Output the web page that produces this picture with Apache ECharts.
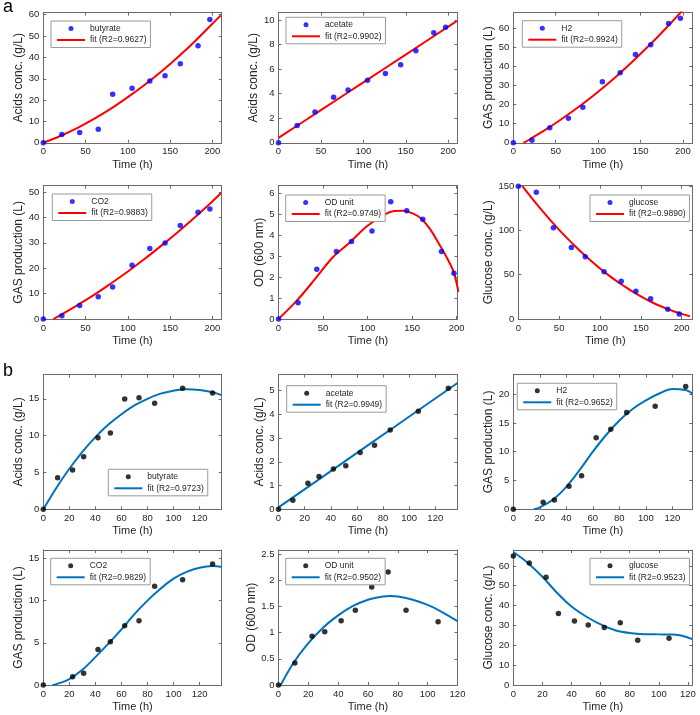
<!DOCTYPE html>
<html><head><meta charset="utf-8">
<script src="https://cdn.jsdelivr.net/npm/echarts@6/dist/echarts.min.js"></script>
<style>html,body{margin:0;padding:0;background:#fff}#c{width:700px;height:715px}</style>
</head><body><div id="c"></div>
<script>
// ---------- DATA ----------
const timeA = [0, 22, 43, 65, 82, 105, 126, 144, 162, 183, 197];
const timeB = [0, 11, 22.5, 31, 42, 51.5, 62.5, 73.5, 85.5, 107, 130];
const timeBgas = [0, 22.5, 31, 42, 51.5, 62.5, 73.5, 85.5, 107, 130];
const timeBod = [0, 11, 22.5, 31, 42, 51.5, 62.5, 73.5, 85.5, 107];

const butyrateA = [0, 3.9, 4.8, 6.4, 22.7, 25.6, 28.9, 31.4, 37, 45.5, 57.8];
const acetateA = [0, 1.4, 2.5, 3.7, 4.3, 5.1, 5.65, 6.35, 7.5, 8.95, 9.4];
const h2A = [0, 1.4, 7.9, 12.9, 18.7, 32, 36.7, 46.3, 51.4, 62.6, 65.4];
const co2A = [0, 1.3, 5.3, 8.8, 12.6, 21.2, 27.8, 29.9, 36.8, 42, 43.3];
const odA = [0, 0.78, 2.37, 3.22, 3.7, 4.2, 5.59, 5.17, 4.76, 3.22, 2.18];
const glucoseA = [150, 143.2, 103, 80.8, 70.3, 53.4, 42.5, 31.2, 22.9, 10.9, 5.6];

const butyrateB = [0, 4.3, 5.33, 7.14, 9.7, 10.35, 14.96, 15.14, 14.4, 16.45, 15.8];
const acetateB = [0, 0.38, 1.1, 1.38, 1.7, 1.83, 2.39, 2.7, 3.34, 4.13, 5.1];
const h2B = [0, 1.22, 1.63, 4.0, 5.83, 12.4, 13.9, 16.8, 17.9, 21.3];
const co2B = [0, 0.99, 1.38, 4.22, 5.13, 7.03, 7.62, 11.7, 12.47, 14.33];
const odB = [0, 0.42, 0.93, 1.02, 1.23, 1.43, 1.875, 2.16, 1.43, 1.21];
const glucoseB = [65, 61.5, 54.3, 36, 32.3, 30.2, 29, 31.3, 22.6, 23.5];

// fitted curves
const fitButyrateA_t = [0, 20, 40, 60, 80, 100, 120, 140, 160, 180, 200, 210];
const fitButyrateA_y = [0, 3.2, 6.9, 11.2, 16, 21.4, 27.2, 33.5, 40.4, 47.8, 55.8, 59.7];
const fitAcetateA_t = [0, 50, 100, 150, 210];
const fitAcetateA_y = [0.4, 2.66, 4.92, 7.18, 9.9];
const fitH2A_t = [12, 20, 40, 60, 80, 100, 120, 140, 160, 180, 201];
const fitH2A_y = [0, 2.0, 7.4, 13.4, 19.8, 26.8, 34.3, 42.4, 51, 60.1, 70.2];
const fitCo2A_t = [12, 20, 40, 60, 80, 100, 120, 140, 160, 180, 200, 210];
const fitCo2A_y = [0, 1.5, 5.4, 9.5, 14.0, 18.7, 23.7, 29.0, 34.5, 40.3, 46.3, 49.5];
const fitOdA_t = [0, 20, 40, 60, 80, 100, 120, 130, 140, 150, 160, 170, 180, 190, 197, 202];
const fitOdA_y = [0, 0.85, 1.85, 2.9, 3.65, 4.45, 5.0, 5.15, 5.17, 5.05, 4.8, 4.3, 3.6, 2.85, 2.2, 1.3];
const fitGlucoseA_t = [5, 10, 20, 30, 40, 50, 60, 70, 80, 90, 100, 110, 120, 130, 140, 150, 160, 170, 180, 190, 200, 210];
const fitGlucoseA_y = [150, 144.0, 132.5, 121.4, 110.8, 100.7, 91.0, 81.8, 73.1, 64.9, 57.1, 49.8, 43.0, 36.8, 30.9, 25.5, 20.6, 16.1, 12.3, 8.8, 5.8, 3.2];

const fitButyrateB_t = [0, 10, 20, 30, 40, 50, 60, 70, 80, 90, 100, 110, 120, 130, 137];
const fitButyrateB_y = [0, 2.9, 5.5, 7.8, 9.8, 11.5, 12.9, 14.1, 15.0, 15.7, 16.1, 16.3, 16.2, 15.9, 15.5];
const fitAcetateB_t = [0, 45, 90, 137];
const fitAcetateB_y = [0.08, 1.8, 3.52, 5.32];
const fitH2B_t = [15.5, 20, 30, 40, 50, 60, 70, 80, 90, 100, 110, 120, 130, 135];
const fitH2B_y = [0, 0.35, 1.7, 3.9, 6.8, 10.0, 12.9, 15.4, 17.4, 18.9, 20.1, 20.9, 20.7, 20.1];
const fitCo2B_t = [7, 10, 20, 30, 40, 50, 60, 70, 80, 90, 100, 110, 120, 130, 137];
const fitCo2B_y = [0, 0.1, 0.7, 1.8, 3.3, 4.9, 6.6, 8.4, 10.0, 11.4, 12.6, 13.4, 13.9, 14.1, 14.0];
const fitOdB_t = [1.5, 10, 20, 30, 40, 50, 60, 70, 75, 80, 90, 100, 110, 120];
const fitOdB_y = [0, 0.42, 0.8, 1.1, 1.33, 1.51, 1.63, 1.69, 1.70, 1.69, 1.63, 1.53, 1.39, 1.22];
const fitGlucoseB_t = [0, 10, 20, 30, 40, 50, 60, 70, 80, 90, 100, 110, 116, 123];
const fitGlucoseB_y = [67, 61.5, 54.5, 46.5, 39.5, 34.5, 30.5, 27.6, 26.2, 25.6, 25.5, 25.4, 24.8, 23.1];

const scatterNames = ['butyrate', 'acetate', 'H2', 'CO2', 'OD unit', 'glucose'];
const fitNamesA = ['fit (R2=0.9627)', 'fit (R2=0.9902)', 'fit (R2=0.9924)', 'fit (R2=0.9883)', 'fit (R2=0.9749)', 'fit (R2=0.9890)'];
const fitNamesB = ['fit (R2=0.9723)', 'fit (R2=0.9949)', 'fit (R2=0.9652)', 'fit (R2=0.9829)', 'fit (R2=0.9502)', 'fit (R2=0.9523)'];
const yNames = ['Acids conc. (g/L)', 'Acids conc. (g/L)', 'GAS production (L)', 'GAS production (L)', 'OD (600 nm)', 'Glucose conc. (g/L)'];
const xName = 'Time (h)';
const panelLetters = ['a', 'b'];

// ---------- LAYOUT ----------
const FONT = '"Liberation Sans", Arial, Helvetica, sans-serif';
const rowsTB = [[12.6, 142.8], [185.7, 319], [374.5, 509.3], [550, 685]];
const panels = [
  {st: timeA, sy: butyrateA, ft: fitButyrateA_t, fy: fitButyrateA_y, name: 0, set: 'A', l: 43.3, w: 178.4, row: 0, x: [0, 211, 50], y: [0, 61, 10], ng: 15.5, leg: [51, 21]},
  {st: timeA, sy: acetateA, ft: fitAcetateA_t, fy: fitAcetateA_y, name: 1, set: 'A', l: 278.5, w: 179, row: 0, x: [0, 211, 50], y: [0, 10.6, 2], ng: 14, leg: [286, 17.3]},
  {st: timeA, sy: h2A, ft: fitH2A_t, fy: fitH2A_y, name: 2, set: 'A', l: 513.3, w: 179, row: 0, x: [0, 211, 50], y: [0, 68.3, 10], ng: 15.5, leg: [522.3, 20.7]},
  {st: timeA, sy: co2A, ft: fitCo2A_t, fy: fitCo2A_y, name: 3, set: 'A', l: 43.3, w: 178.4, row: 1, x: [0, 211, 50], y: [0, 52.5, 10], ng: 15.5, leg: [52.3, 194]},
  {st: timeA, sy: odA, ft: fitOdA_t, fy: fitOdA_y, name: 4, set: 'A', l: 278.5, w: 179, row: 1, x: [0, 201, 50], y: [0, 6.36, 1], ng: 10.5, leg: [285.7, 195]},
  {st: timeA, sy: glucoseA, ft: fitGlucoseA_t, fy: fitGlucoseA_y, name: 5, set: 'A', l: 518.3, w: 174, row: 1, x: [0, 213, 50], y: [0, 150.5, 50], ng: 20.5, leg: [590, 195]},
  {st: timeB, sy: butyrateB, ft: fitButyrateB_t, fy: fitButyrateB_y, name: 0, set: 'B', l: 43.3, w: 178.4, row: 2, x: [0, 137, 20], y: [0, 18.3, 5], ng: 15.5, leg: [108.3, 469.3]},
  {st: timeB, sy: acetateB, ft: fitAcetateB_t, fy: fitAcetateB_y, name: 1, set: 'B', l: 278.5, w: 179, row: 2, x: [0, 137, 20], y: [0, 5.68, 1], ng: 11, leg: [286.7, 385.7]},
  {st: timeBgas, sy: h2B, ft: fitH2B_t, fy: fitH2B_y, name: 2, set: 'B', l: 513.3, w: 179, row: 2, x: [0, 135, 20], y: [0, 23.4, 5], ng: 15.5, leg: [517.3, 383.3]},
  {st: timeBgas, sy: co2B, ft: fitCo2B_t, fy: fitCo2B_y, name: 3, set: 'B', l: 43.3, w: 178.4, row: 3, x: [0, 137, 20], y: [0, 16, 5], ng: 15.5, leg: [50.7, 558.3]},
  {st: timeBod, sy: odB, ft: fitOdB_t, fy: fitOdB_y, name: 4, set: 'B', l: 278.5, w: 179, row: 3, x: [0, 120, 20], y: [0, 2.58, 0.5], ng: 17.5, leg: [285.7, 558.3]},
  {st: timeBod, sy: glucoseB, ft: fitGlucoseB_t, fy: fitGlucoseB_y, name: 5, set: 'B', l: 513.3, w: 179, row: 3, x: [0, 123, 20], y: [0, 68, 10], ng: 15.5, leg: [590, 558.3]}
];

const AXC = '#6a6a6a', TXC = '#262626';
const LINE_ICON = 'path://M0,0H28V2H0Z';
const isMult = (m, i) => Math.abs(m / i - Math.round(m / i)) < 1e-6;
function axisBase(r, pos, labels) {
  return {
    type: 'value', min: r[0], max: r[1], interval: r[2], position: pos,
    axisLine: {show: true, onZero: false, lineStyle: {color: AXC, width: 1}},
    axisTick: {show: true, inside: true, length: 3, lineStyle: {color: AXC, width: 1}},
    splitLine: {show: false},
    axisLabel: {show: labels, color: TXC, fontSize: 9.5, fontFamily: FONT, margin: 4,
      showMinLabel: true, showMaxLabel: isMult(r[1], r[2])}
  };
}

const grid = [], xAxis = [], yAxis = [], series = [], legend = [];
panels.forEach((p, i) => {
  const tb = rowsTB[p.row];
  grid.push({left: p.l, top: tb[0], width: p.w, height: tb[1] - tb[0], containLabel: false});
  const xb = axisBase(p.x, 'bottom', true);
  xb.gridIndex = i; xb.name = xName; xb.nameLocation = 'middle'; xb.nameGap = 16.5;
  xb.nameTextStyle = {color: TXC, fontSize: 11, fontFamily: FONT};
  const xt = axisBase(p.x, 'top', false); xt.gridIndex = i;
  const yl = axisBase(p.y, 'left', true);
  yl.gridIndex = i; yl.name = yNames[p.name]; yl.nameLocation = 'middle'; yl.nameGap = p.ng;
  yl.nameTextStyle = {color: TXC, fontSize: 12, fontFamily: FONT};
  const yr = axisBase(p.y, 'right', false); yr.gridIndex = i;
  xAxis.push(xb, xt); yAxis.push(yl, yr);

  const isA = p.set === 'A';
  const sName = isA ? scatterNames[p.name] : scatterNames[p.name] + ' ';
  const fName = isA ? fitNamesA[p.name] : fitNamesB[p.name];
  const dotColor = isA ? '#0000ff' : '#000000';
  const lineColor = isA ? '#ff0000' : '#0072bd';
  series.push({
    type: 'line', name: fName, xAxisIndex: 2 * i, yAxisIndex: 2 * i,
    data: p.ft.map((t, k) => [t, p.fy[k]]), symbol: 'none', smooth: 0.35,
    lineStyle: {color: lineColor, width: 2}, itemStyle: {color: lineColor}, z: 2, silent: true
  });
  series.push({
    type: 'scatter', name: sName, xAxisIndex: 2 * i, yAxisIndex: 2 * i,
    data: p.st.map((t, k) => [t, p.sy[k]]), symbol: 'circle', symbolSize: 5.5,
    itemStyle: {color: dotColor}, z: 3, silent: true
  });
  legend.push({
    orient: 'vertical', left: p.leg[0], top: p.leg[1],
    data: [{name: sName, icon: 'circle'}, {name: fName, icon: LINE_ICON}],
    itemWidth: 28, itemHeight: 5, itemGap: 2.5, padding: [3, 4, 3, 6],
    backgroundColor: '#fff', borderColor: '#9a9a9a', borderWidth: 1,
    textStyle: {color: TXC, fontSize: 8.5, fontFamily: FONT}, selectedMode: false, z: 10
  });
});

const chart = echarts.init(document.getElementById('c'), null, {renderer: 'canvas'});
chart.setOption({
  animation: false, backgroundColor: '#fff',
  title: [
    {text: panelLetters[0], left: 3, top: -2, padding: 0, textStyle: {fontSize: 18, fontWeight: 'normal', color: '#000', fontFamily: FONT}},
    {text: panelLetters[1], left: 3, top: 362, padding: 0, textStyle: {fontSize: 18, fontWeight: 'normal', color: '#000', fontFamily: FONT}}
  ],
  grid, xAxis, yAxis, series, legend
});
</script></body></html>
